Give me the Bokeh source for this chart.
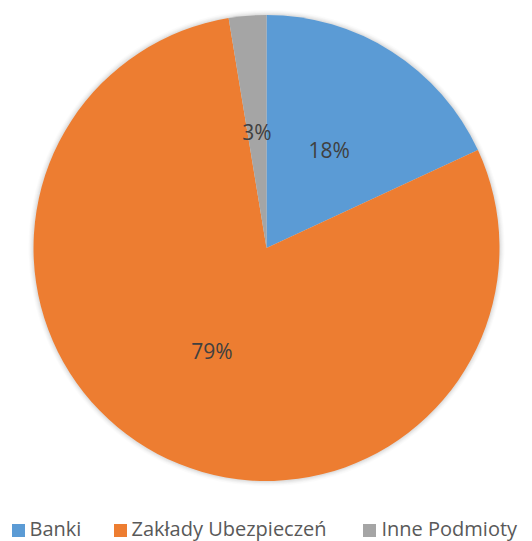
import math
from bokeh.plotting import figure
from bokeh.models import Range1d, ColumnDataSource
from bokeh.core.properties import value
from bokeh.embed import file_html
from bokeh.resources import INLINE

# ---- data ----
categories = ["Banki", "Zakłady Ubezpieczeń", "Inne Podmioty"]
shares = [18.1, 79.3, 2.6]
colors = ["#5b9bd5", "#ed7d31", "#a5a5a5"]

# ---- layout ----
W, H = 532, 541
CX, CY = 266, H - 247.5
R = 233
FONT = "Open Sans"

p = figure(width=W, height=H, output_backend="svg", toolbar_location=None,
           x_range=Range1d(0, W), y_range=Range1d(0, H),
           x_axis_location=None, y_axis_location=None, min_border=0)
p.outline_line_color = None
p.grid.visible = False
p.background_fill_color = "white"
p.border_fill_color = "white"

# soft shadow
for i, a in zip([5, 4, 3, 2, 1], [0.03, 0.04, 0.05, 0.07, 0.09]):
    p.circle(x=[CX], y=[CY], radius=R + i, fill_color="#808080", fill_alpha=a, line_color=None)

total = sum(shares)
starts, ends, lx, ly, labels = [], [], [], [], []
ang = math.pi / 2
for s in shares:
    sweep = 2 * math.pi * s / total
    st, en = ang - sweep, ang
    starts.append(st)
    ends.append(en)
    mid = (st + en) / 2
    lx.append(CX + 0.5 * R * math.cos(mid))
    ly.append(CY + 0.5 * R * math.sin(mid))
    labels.append(f"{int(s / total * 100 + 0.5)}%")
    ang = st

src = ColumnDataSource(dict(start=starts, end=ends, color=colors, lx=lx, ly=ly, label=labels))
p.wedge(x=CX, y=CY, radius=R, start_angle="start", end_angle="end",
        fill_color="color", line_color=None, source=src)
p.text(x="lx", y="ly", text="label", source=src, text_align="center", text_baseline="middle",
       text_font=value(FONT), text_font_size="21px", text_color="#404040")

# legend
sq_x = [18, 120, 369]
tx_x = [29, 131, 381]
p.scatter(x=sq_x, y=[H - 530] * 3, marker="square", size=13, fill_color=colors, line_color=None)
p.text(x=tx_x, y=[H - 528] * 3, text=categories, text_align="left", text_baseline="middle",
       text_font=value(FONT), text_font_size="20px", text_color="#595959")

open("out.html", "w").write(file_html(p, INLINE))
